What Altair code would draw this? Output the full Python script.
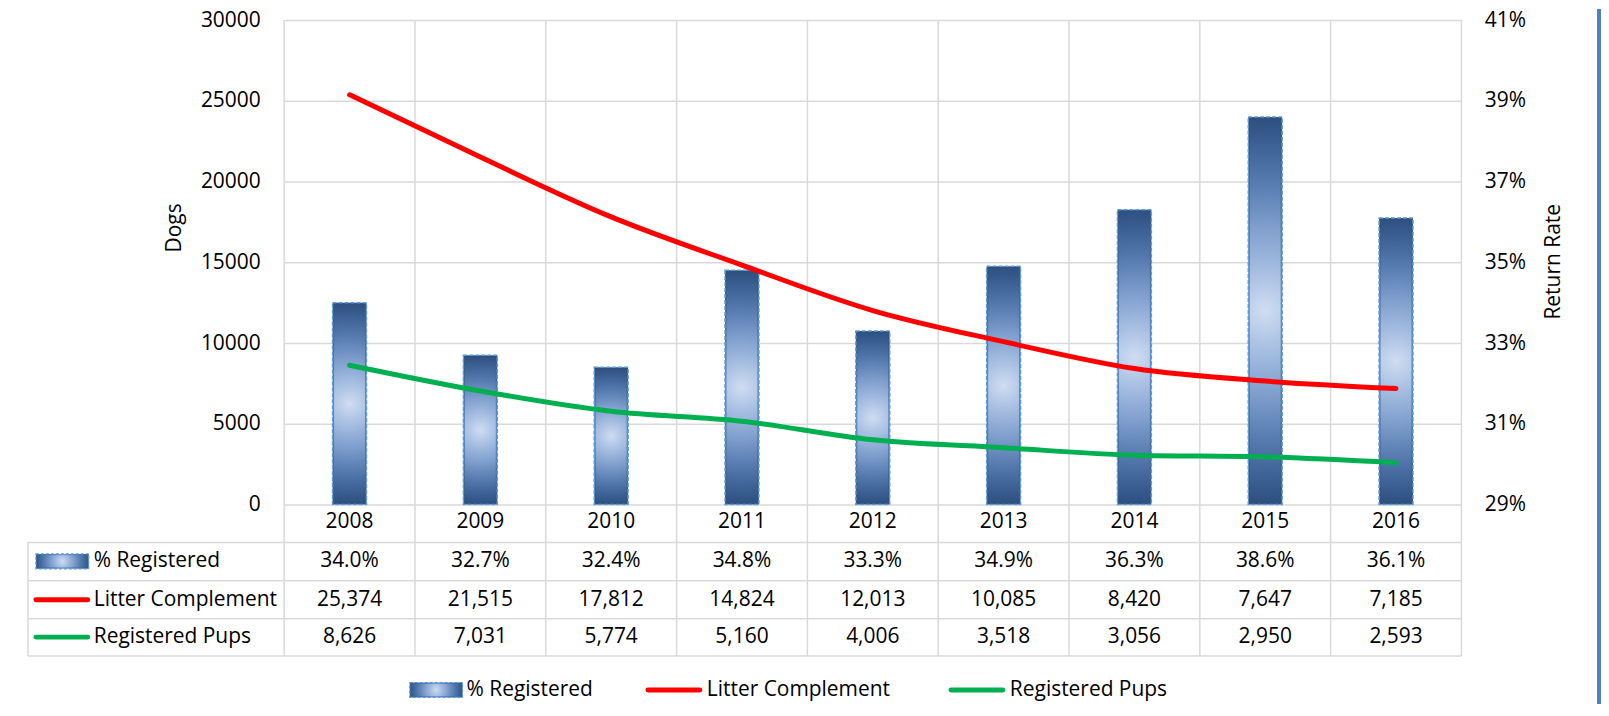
import altair as alt
import pandas as pd

# ---------------- data ----------------
years = ["2008", "2009", "2010", "2011", "2012", "2013", "2014", "2015", "2016"]
pct_registered = [0.340, 0.327, 0.324, 0.348, 0.333, 0.349, 0.363, 0.386, 0.361]
litter_complement = [25374, 21515, 17812, 14824, 12013, 10085, 8420, 7647, 7185]
registered_pups = [8626, 7031, 5774, 5160, 4006, 3518, 3056, 2950, 2593]
series_names = ["% Registered", "Litter Complement", "Registered Pups"]
dogs_ticks = [0, 5000, 10000, 15000, 20000, 25000, 30000]
rate_ticks = [0.29, 0.31, 0.33, 0.35, 0.37, 0.39, 0.41]

# ---------------- style / layout (page pixels converted to view pixels) ----------------
TOP = 19          # page y of plot top
W, H = 1181, 486  # plot area
FONT = "Open Sans"
FS = 21
GRID = "#d9d9d9"
RED = "#ff0000"
GREEN = "#00b050"
BAR_STROKE = "#5b9bd5"
TABLE_LEFT = -257


def py(page_y):
    return page_y - TOP


ROW_LINES = [py(543), py(581.5), py(619.5), py(657)]
ROW_CENTERS = [py(562), py(600.5), py(638)]
YEAR_Y = py(523)
LEGEND_Y = py(691)

df = pd.DataFrame({"year": years, "pct": pct_registered,
                   "litter": litter_complement, "pups": registered_pups})
long = pd.DataFrame({
    "year": years * 2,
    "series": [series_names[1]] * len(years) + [series_names[2]] * len(years),
    "value": litter_complement + registered_pups,
})
one = alt.Data(values=[{}])

xs = alt.Scale(type="band", paddingInner=0, paddingOuter=0)


def X(bp=0.5):
    return alt.X("year:O", scale=xs, axis=None, bandPosition=bp)


def stops(pairs):
    return [alt.GradientStop(offset=o, color=c) for o, c in pairs]


bar_grad = alt.LinearGradient(
    gradient="linear",
    stops=stops([(0, "#2e4f7e"), (0.5, "#5a89c8"), (1, "#2e4f7e")]),
    x1=0, x2=0, y1=0, y2=1)
key_grad = alt.LinearGradient(
    gradient="linear",
    stops=stops([(0, "#34588a"), (0.5, "#6f99d0"), (1, "#34588a")]),
    x1=0, x2=1, y1=0, y2=0)
glow = alt.RadialGradient(
    gradient="radial",
    stops=stops([(0, "rgba(208,221,241,1)"), (0.45, "rgba(160,186,226,0.6)"),
                 (1, "rgba(91,137,200,0)")]),
    x1=0.5, y1=0.5, r1=0, x2=0.5, y2=0.5, r2=0.5)

# ---------------- axes ----------------
rate_axis = alt.Axis(orient="right", values=rate_ticks, format=".0%", grid=False,
                     domain=False, ticks=False, tickSize=0, labelPadding=23,
                     title="Return Rate", titleAngle=270, titleX=92, titleY=py(261),
                     titleAlign="center", titleBaseline="middle")
rate_y = alt.Y("pct:Q", scale=alt.Scale(domain=[0.29, 0.41], nice=False, zero=False),
               axis=rate_axis)

dogs_axis = alt.Axis(orient="left", values=dogs_ticks, format="d", grid=True,
                     gridColor=GRID, gridWidth=1.5, domain=False, ticks=False,
                     tickSize=0, labelPadding=24, title="Dogs", titleAngle=270,
                     titleX=-110, titleY=py(227), titleAlign="center",
                     titleBaseline="middle")
dogs_y = alt.Y("value:Q", scale=alt.Scale(domain=[0, 30000], nice=False), axis=dogs_axis)

# ---------------- grid / table lines ----------------
layers = []
layers.append(alt.Chart(df).mark_rule(color=GRID, strokeWidth=1.5).encode(
    x=X(0), y=alt.value(0), y2=alt.value(ROW_LINES[-1])))
layers.append(alt.Chart(one).mark_rule(color=GRID, strokeWidth=1.5).encode(
    x=alt.value(W), y=alt.value(0), y2=alt.value(ROW_LINES[-1])))
layers.append(alt.Chart(one).mark_rule(color=GRID, strokeWidth=1.5).encode(
    x=alt.value(TABLE_LEFT), y=alt.value(ROW_LINES[0]), y2=alt.value(ROW_LINES[-1])))
for yl in ROW_LINES:
    layers.append(alt.Chart(one).mark_rule(color=GRID, strokeWidth=1.5).encode(
        x=alt.value(TABLE_LEFT), x2=alt.value(W), y=alt.value(yl)))

# ---------------- bars ----------------
bars_fill = alt.Chart(df).mark_bar(size=34, fill=bar_grad, stroke=BAR_STROKE,
                                   strokeWidth=1.5, strokeDash=[4, 2]).encode(
    x=X(), y=rate_y, y2=alt.Y2Datum(0.29))
bars_glow = alt.Chart(df).mark_bar(size=31, fill=glow, strokeWidth=0).encode(
    x=X(), y=rate_y, y2=alt.Y2Datum(0.29))
bars = alt.layer(bars_fill, bars_glow)

# ---------------- lines ----------------
lines = alt.Chart(long).mark_line(strokeWidth=5, interpolate="monotone",
                                  strokeCap="round").encode(
    x=X(), y=dogs_y,
    color=alt.Color("series:N", scale=alt.Scale(domain=series_names[1:], range=[RED, GREEN]),
                    legend=None))

# ---------------- table texts ----------------
txt = dict(font=FONT, fontSize=FS, color="black", baseline="middle")
table = [
    alt.Chart(df).mark_text(**txt).encode(x=X(), y=alt.value(YEAR_Y), text="year:N"),
    alt.Chart(df).mark_text(**txt).encode(x=X(), y=alt.value(ROW_CENTERS[0]),
                                          text=alt.Text("pct:Q", format=".1%")),
    alt.Chart(df).mark_text(**txt).encode(x=X(), y=alt.value(ROW_CENTERS[1]),
                                          text=alt.Text("litter:Q", format=",")),
    alt.Chart(df).mark_text(**txt).encode(x=X(), y=alt.value(ROW_CENTERS[2]),
                                          text=alt.Text("pups:Q", format=",")),
]


def key_bar(x0, y0):
    return [
        alt.Chart(one).mark_rect(fill=key_grad, stroke=BAR_STROKE, strokeWidth=1.2,
                                 strokeDash=[3, 2]).encode(
            x=alt.value(x0), x2=alt.value(x0 + 53), y=alt.value(y0 - 7.5), y2=alt.value(y0 + 7.5)),
        alt.Chart(one).mark_rect(fill=glow).encode(
            x=alt.value(x0 + 2), x2=alt.value(x0 + 51), y=alt.value(y0 - 6), y2=alt.value(y0 + 6)),
    ]


def key_line(x0, y0, col):
    return alt.Chart(one).mark_rule(color=col, strokeWidth=5, strokeCap="round").encode(
        x=alt.value(x0 + 2), x2=alt.value(x0 + 54), y=alt.value(y0))


def label(name, x0, y0):
    return alt.Chart(alt.Data(values=[{"s": name}])).mark_text(align="left", **txt).encode(
        x=alt.value(x0), y=alt.value(y0), text="s:N")


# header column of the table
header = key_bar(-249, ROW_CENTERS[0])
header += [key_line(-251, ROW_CENTERS[1], RED), key_line(-251, ROW_CENTERS[2], GREEN)]
header += [label(series_names[i], -191, ROW_CENTERS[i]) for i in range(3)]

# bottom legend
legend = key_bar(126, LEGEND_Y)
legend += [label(series_names[0], 183, LEGEND_Y)]
legend += [key_line(363, LEGEND_Y, RED), label(series_names[1], 424, LEGEND_Y)]
legend += [key_line(667, LEGEND_Y, GREEN), label(series_names[2], 728, LEGEND_Y)]

# right frame border
border = alt.Chart(one).mark_rule(color="#4f81bd", strokeWidth=6).encode(
    x=alt.value(1320), y=alt.value(py(8)), y2=alt.value(py(716)))

chart = alt.layer(*layers, bars, lines, *table, *header, *legend, border).resolve_scale(
    y="independent"
).properties(
    width=W, height=H,
    padding={"left": 277, "top": TOP - 8, "right": 140, "bottom": 704 - (TOP + H)},
    autosize=alt.AutoSizeParams(type="none"),
).configure(font=FONT).configure_view(strokeWidth=0).configure_axis(
    labelFont=FONT, titleFont=FONT, labelFontSize=FS, titleFontSize=FS,
    labelColor="black", titleColor="black", titleFontWeight="normal")

chart.save("out.html", embed_options={"renderer": "svg", "actions": False})
